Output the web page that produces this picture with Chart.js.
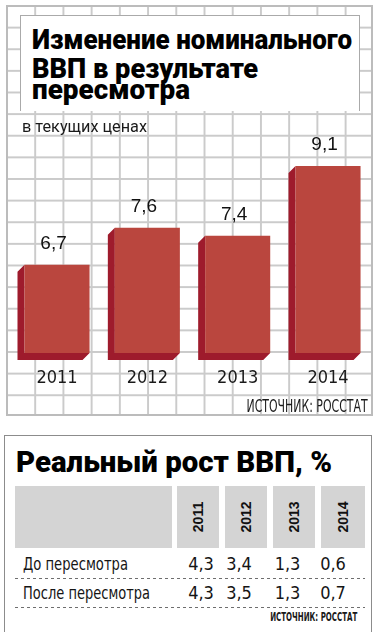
<!DOCTYPE html>
<html lang="ru">
<head>
<meta charset="UTF-8">
<title>Изменение номинального ВВП в результате пересмотра</title>
<script src="https://cdn.jsdelivr.net/npm/chart.js"></script>
<style>
  html, body { margin: 0; padding: 0; background: #fff; }
  body { position: relative; width: 381px; height: 640px; overflow: hidden; color: #111;
         font-family: "Liberation Sans Narrow", "DejaVu Sans Condensed", "Liberation Sans", sans-serif; }
  .abs { position: absolute; white-space: nowrap; line-height: 1; }
  .head { font-family: Roboto, "Noto Sans", sans-serif; font-weight: 900; color: #000; }
  #grid { left: 6px; top: 5px; width: 367px; height: 411px; box-sizing: border-box;
          border: 2px solid #bcbcbc; background-origin: border-box;
          background-image: linear-gradient(to right, #cbcbcb 1.5px, transparent 1.5px),
                            linear-gradient(to bottom, #cbcbcb 1.5px, transparent 1.5px);
          background-size: 28.23px 21.63px; }
  #chart { position: absolute; left: 0; top: 0; }
  #titleBox { left: 19.5px; top: 15px; width: 340px; height: 96px; box-sizing: border-box;
              background: #fff; border: 1.5px solid #aaa; border-bottom: none; }
  #tableBox { left: 4px; top: 435px; width: 368px; height: 197px; box-sizing: border-box;
              border: 1.5px solid #8c8c8c; border-bottom: none; }
  .cell { background: #d4d4d4; top: 486px; height: 62px; }
  .year { font-family: "Liberation Sans", Arial, sans-serif; font-weight: bold; font-size: 14px;
          transform: translate(-50%, -50%) rotate(-90deg); }
  .row { font-size: 18px; color: #151515; }
  .num { font-size: 18px; color: #151515; transform: translateX(-50%); }
  .dash { left: 15px; width: 350px; height: 1px;
          background: repeating-linear-gradient(to right, #6e6e6e 0 3px, transparent 3px 6px); }
</style>
</head>
<body>
  <div id="grid" class="abs"></div>
  <canvas id="chart" width="381" height="420"></canvas>
  <div id="titleBox" class="abs"></div>
  <div class="abs head" style="left:32px; top:25.7px; font-size:28px" data-w="320">Изменение номинального</div>
  <div class="abs head" style="left:32px; top:54.7px; font-size:28px" data-w="226">ВВП в результате</div>
  <div class="abs head" style="left:32px; top:76px; font-size:28px" data-w="158">пересмотра</div>
  <div class="abs" style="left:22px; top:119px; font-family:Roboto, sans-serif; font-size:16px; color:#1a1a1a" data-w="125">в текущих ценах</div>
  <div class="abs" style="right:13px; top:397.8px; font-size:17px; color:#1a1a1a" data-w="121" data-align="right">ИСТОЧНИК: РОССТАТ</div>

  <div id="tableBox" class="abs"></div>
  <div class="abs head" style="left:16px; top:448.2px; font-size:29px" data-w="316">Реальный рост ВВП, %</div>
  <div id="table"></div>
  <div class="abs" style="right:23.7px; top:611.4px; font-size:12px; font-weight:bold; color:#1a1a1a" data-w="87" data-align="right">ИСТОЧНИК: РОССТАТ</div>

<script>
  const years = ['2011', '2012', '2013', '2014'];
  const nominalGdp = [6.7, 7.6, 7.4, 9.1];
  const rowLabels = ['До пересмотра', 'После пересмотра'];
  const realBefore = [4.3, 3.4, 1.3, 0.6];
  const realAfter = [4.3, 3.5, 1.3, 0.7];

  const fmt = v => v.toFixed(1).replace('.', ',');
  const depth = 7;

  // тёмная боковая грань столбиков и подписи значений
  const bar3d = {
    id: 'bar3d',
    beforeDatasetsDraw(chart) {
      const ctx = chart.ctx;
      const bottom = chart.chartArea.bottom;
      ctx.save();
      ctx.fillStyle = '#9e1b2c';
      chart.getDatasetMeta(0).data.forEach(bar => {
        const { x, y, width } = bar.getProps(['x', 'y', 'width'], true);
        const l = x - width / 2, r = x + width / 2;
        ctx.beginPath();
        ctx.moveTo(l, y);
        ctx.lineTo(l - depth, y + depth);
        ctx.lineTo(l - depth, bottom + depth);
        ctx.lineTo(r - depth, bottom + depth);
        ctx.lineTo(r, bottom);
        ctx.lineTo(l, bottom);
        ctx.closePath();
        ctx.fill();
      });
      ctx.restore();
    },
    afterDatasetsDraw(chart) {
      const ctx = chart.ctx;
      ctx.save();
      ctx.font = '19px "Liberation Sans", Arial, sans-serif';
      ctx.fillStyle = '#111';
      ctx.textAlign = 'center';
      ctx.textBaseline = 'alphabetic';
      chart.getDatasetMeta(0).data.forEach((bar, i) => {
        ctx.fillText(fmt(nominalGdp[i]), bar.x - depth / 2, bar.y - 16);
      });
      ctx.restore();
    }
  };

  new Chart(document.getElementById('chart'), {
    type: 'bar',
    data: {
      labels: years,
      datasets: [{
        data: nominalGdp,
        backgroundColor: '#ba463e',
        borderWidth: 0,
        categoryPercentage: 1,
        barPercentage: 0.72
      }]
    },
    options: {
      responsive: false,
      animation: false,
      layout: { padding: { left: 11.85, right: 7.8, top: 129, bottom: 31 } },
      plugins: { legend: { display: false }, tooltip: { enabled: false } },
      scales: {
        x: {
          grid: { display: false, drawTicks: false },
          border: { display: false },
          ticks: {
            padding: 15,
            color: '#1a1a1a',
            font: { family: '"Liberation Sans Narrow", "DejaVu Sans Condensed", sans-serif', size: 18 }
          },
          afterFit: s => { s.height = 36; }
        },
        y: { display: false, min: 4.55, max: 10 }
      }
    },
    plugins: [bar3d]
  });

  // таблица реального роста
  const table = document.getElementById('table');
  const cellLeft = [177, 225, 273, 321];
  const cellWidth = [42, 42, 42, 44];
  const numX = [201, 239, 287.5, 333];
  const rowTop = [555.2, 584.2];
  const rowWidth = [105, 127];
  const dashY = [577.7, 606.5];

  function add(cls, text, style) {
    const el = document.createElement('div');
    el.className = 'abs ' + cls;
    el.textContent = text;
    Object.assign(el.style, style);
    table.appendChild(el);
    return el;
  }

  add('cell', '', { left: '15px', width: '157px' });
  years.forEach((y, i) => {
    add('cell', '', { left: cellLeft[i] + 'px', width: cellWidth[i] + 'px' });
    add('year', y, { left: (cellLeft[i] + cellWidth[i] / 2) + 'px', top: '517px' });
  });
  [realBefore, realAfter].forEach((vals, r) => {
    const lbl = add('row', rowLabels[r], { left: '23px', top: rowTop[r] + 'px' });
    lbl.dataset.w = rowWidth[r];
    vals.forEach((v, i) => add('num', fmt(v), { left: numX[i] + 'px', top: rowTop[r] + 'px' }));
    add('dash', '', { top: dashY[r] + 'px' });
  });

  function fitText() {
    document.querySelectorAll('[data-w]').forEach(el => {
      const w = el.getBoundingClientRect().width;
      el.style.transformOrigin = el.dataset.align === 'right' ? 'right top' : 'left top';
      el.style.transform = `scaleX(${+el.dataset.w / w})`;
    });
  }
  document.fonts.ready.then(fitText);
</script>
</body>
</html>
